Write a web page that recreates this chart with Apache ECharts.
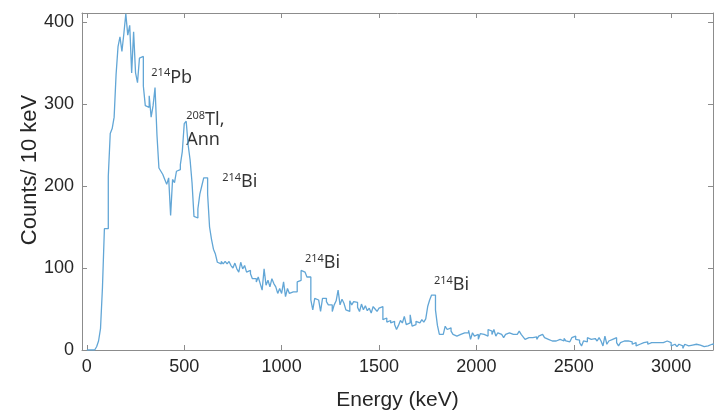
<!DOCTYPE html>
<html>
<head>
<meta charset="utf-8">
<script src="https://cdn.jsdelivr.net/npm/echarts@6/dist/echarts.min.js"></script>
<style>
  html, body { margin: 0; padding: 0; background: #ffffff; }
  #chart { width: 714px; height: 416px; }
</style>
</head>
<body>
<div id="chart"></div>
<script>
// Gamma-ray spectrum, 10 keV bins starting at 0 keV
const binWidth = 10;
const firstBin = 0;
const counts = [
  0, 0, 0, 0, 1, 4, 11, 26, 76, 148,              // 0-90
  148, 212, 264, 270, 284, 336, 370, 382, 364, 386, // 100-190
  410, 384, 396, 338, 388, 338, 326, 356, 358, 322, // 200-290
  298, 296, 310, 284, 298, 320, 262, 222, 218, 214, // 300-390
  208, 202, 210, 164, 208, 204, 218, 220, 226, 242, // 400-490
  276, 279, 250, 232, 204, 163, 161, 172, 190, 200, // 500-590
  210, 210, 190, 150, 135, 123, 117, 107, 105, 108, // 600-690
  105, 108, 105, 108, 103, 100, 106, 99, 95, 107,   // 700-790
  99, 103, 95, 97, 93, 87, 87, 83, 89, 81,          // 800-890
  73, 99, 79, 85, 77, 87, 81, 77, 69, 75,           // 900-990
  69, 83, 65, 75, 69, 71, 69, 71, 83, 85,           // 1000-1090
  97, 95, 97, 89, 89, 61, 49, 63, 61, 63,           // 1100-1190
  47, 63, 63, 59, 55, 55, 47, 55, 60, 73,           // 1200-1290
  55, 62, 57, 49, 47, 60, 55, 59, 58, 52,           // 1300-1390
  47, 56, 49, 54, 48, 51, 45, 53, 50, 47,           // 1400-1490
  51, 53, 37, 39, 34, 36, 33, 35, 31, 25,           // 1500-1590
  30, 36, 33, 41, 31, 33, 43, 29, 31, 35,           // 1600-1690
  33, 35, 37, 34, 38, 53, 61, 67, 67, 49,           // 1700-1790
  30, 19, 19, 19, 29, 25, 27, 23, 19, 17,           // 1800-1890
  19, 19, 17, 21, 19, 21, 24, 13, 21, 17,           // 1900-1990
  19, 13, 20, 19, 21, 17, 25, 23, 19, 25,           // 2000-2090
  17, 21, 19, 17, 15, 19, 21, 23, 19, 17,           // 2100-2190
  19, 21, 23, 19, 16, 13, 15, 13, 15, 14,           // 2200-2290
  16, 13, 17, 19, 17, 15, 13, 12, 11, 11,           // 2300-2390
  11, 11, 13, 11, 11, 14, 11, 10, 11, 15,           // 2400-2490
  17, 13, 12, 9, 5, 11, 10, 15, 13, 11,             // 2500-2590
  14, 13, 11, 15, 11, 5, 17, 7, 11, 13,             // 2600-2690
  11, 15, 9, 5, 9, 11, 9, 11, 9, 10,                // 2700-2790
  7, 9, 5, 7, 5, 9, 9, 10, 7, 9,                    // 2800-2890
  7, 9, 7, 9, 11, 9, 7, 11, 12, 9,                  // 2900-2990
  5, 7, 5, 4, 7, 5, 2, 7, 5, 7,                     // 3000-3090
  6, 4, 7, 5, 6, 5, 4, 6, 5, 4,                     // 3100-3190
  7, 7                                              // 3200-3210
];

const xTickValues = [0, 500, 1000, 1500, 2000, 2500, 3000];
const yTickValues = [0, 100, 200, 300, 400];
const xTitle = 'Energy (keV)';
const yTitle = 'Counts/ 10 keV';

// Peak annotations: isotope mass number, element text, anchor (keV, counts)
const peakMass = ['214', '208', '214', '214', '214'];
const peakText = ['Pb', 'Tl,\nAnn', 'Bi', 'Bi', 'Bi'];
const peakAnchor = [[331, 332], [510, 268], [695, 205], [1120, 106], [1782, 79]];

// step outline: each bin value holds from its left edge to the next edge
const stepPoints = counts.map((c, i) => [firstBin + i * binWidth, c]);
stepPoints.push([firstBin + counts.length * binWidth, counts[counts.length - 1]]);

const axisColor = '#8c8c8c';
const textColor = '#262626';
const tickFont = 'Liberation Sans, Arial, sans-serif';
const noteFont = 'Noto Sans, Open Sans, sans-serif';

const chart = echarts.init(document.getElementById('chart'), null, { renderer: 'canvas' });

function frameAxis(extra) {
  return Object.assign({
    type: 'value',
    splitLine: { show: false },
    axisLine: { show: true, onZero: false, lineStyle: { color: axisColor, width: 1 } }
  }, extra);
}

function ticks(values) {
  return { show: true, inside: true, length: 5, customValues: values, lineStyle: { color: axisColor } };
}

const plainNumber = (v) => String(v);

chart.setOption({
  animation: false,
  backgroundColor: '#ffffff',
  grid: { left: 82, right: 1, top: 13, bottom: 62, containLabel: false },
  xAxis: [
    frameAxis({
      min: -25, max: 3215, position: 'bottom',
      axisTick: ticks(xTickValues),
      axisLabel: { customValues: xTickValues, formatter: plainNumber, color: textColor, fontFamily: tickFont, fontSize: 18, margin: 8 },
      name: xTitle, nameLocation: 'middle', nameGap: 40,
      nameTextStyle: { color: textColor, fontFamily: tickFont, fontSize: 21 }
    }),
    frameAxis({
      min: -25, max: 3215, position: 'top',
      axisTick: ticks(xTickValues),
      axisLabel: { show: false }
    })
  ],
  yAxis: [
    frameAxis({
      min: 0, max: 411, position: 'left',
      axisTick: ticks(yTickValues),
      axisLabel: { customValues: yTickValues, formatter: plainNumber, color: textColor, fontFamily: tickFont, fontSize: 18, margin: 8 }
    }),
    frameAxis({
      min: 0, max: 411, position: 'right',
      axisTick: ticks(yTickValues),
      axisLabel: { show: false }
    })
  ],
  graphic: [{
    type: 'text',
    x: 30, y: 170,
    rotation: Math.PI / 2,
    style: {
      text: yTitle,
      fill: textColor,
      font: '22px Liberation Sans, Arial, sans-serif',
      align: 'center',
      verticalAlign: 'middle'
    }
  }],
  series: [
    {
      type: 'line',
      xAxisIndex: 0, yAxisIndex: 0,
      data: stepPoints,
      step: 'end',
      showSymbol: false,
      clip: true,
      lineStyle: { color: '#62a6d6', width: 1.3 }
    },
    {
      type: 'scatter',
      xAxisIndex: 0, yAxisIndex: 0,
      data: peakAnchor,
      symbolSize: 0,
      silent: true,
      label: {
        show: true,
        position: 'right',
        distance: 0,
        align: 'left',
        formatter: (p) => {
          const lines = peakText[p.dataIndex].split('\n');
          return '{sup|' + peakMass[p.dataIndex] + '}{el|' + lines[0] + '}' +
            lines.slice(1).map(l => '\n{el|' + l + '}').join('');
        },
        rich: {
          sup: { fontFamily: noteFont, fontSize: 11, color: '#000000', verticalAlign: 'top', lineHeight: 20 },
          el: { fontFamily: noteFont, fontSize: 18, color: '#000000', lineHeight: 20 }
        }
      }
    }
  ]
});
</script>
</body>
</html>
